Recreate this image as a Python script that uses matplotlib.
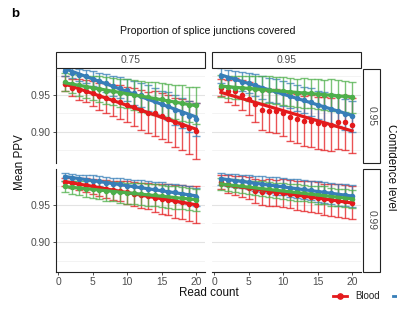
import numpy as np
import matplotlib
matplotlib.use("Agg")
import matplotlib.pyplot as plt
from matplotlib.patches import Rectangle
from matplotlib.lines import Line2D

# ---------------- data ----------------
read_count = np.arange(1, 21)
coverage_levels = ["0.75", "0.95"]
confidence_levels = ["0.95", "0.99"]
tissues = ["Blood", "Tissue2", "Tissue3"]
colors = {"Blood": "#E41A1C", "Tissue2": "#377EB8", "Tissue3": "#4DAF4A"}

# top-left: coverage 0.75, confidence 0.95
tl_red = [0.965, 0.960, 0.957, 0.955, 0.952, 0.948, 0.946, 0.943, 0.940, 0.937,
          0.934, 0.930, 0.926, 0.925, 0.921, 0.918, 0.913, 0.910, 0.906, 0.901]
tl_red_err = [0.010, 0.012, 0.014, 0.015, 0.017, 0.018, 0.020, 0.021, 0.023, 0.024,
              0.026, 0.027, 0.028, 0.030, 0.031, 0.032, 0.033, 0.035, 0.036, 0.038]
tl_blue = [0.982, 0.980, 0.977, 0.975, 0.972, 0.969, 0.966, 0.962, 0.960, 0.957,
           0.953, 0.950, 0.946, 0.942, 0.938, 0.935, 0.930, 0.926, 0.921, 0.917]
tl_blue_err = [0.006, 0.007, 0.008, 0.009, 0.010, 0.011, 0.012, 0.013, 0.014, 0.015,
               0.016, 0.016, 0.017, 0.018, 0.018, 0.019, 0.020, 0.020, 0.021, 0.022]
tl_green = [0.968, 0.965, 0.963, 0.961, 0.959, 0.958, 0.956, 0.955, 0.953, 0.952,
            0.950, 0.948, 0.947, 0.945, 0.944, 0.942, 0.940, 0.939, 0.937, 0.936]
tl_green_err = [0.012, 0.013, 0.014, 0.015, 0.016, 0.017, 0.018, 0.018, 0.019, 0.020,
                0.020, 0.021, 0.021, 0.022, 0.022, 0.023, 0.023, 0.024, 0.024, 0.025]

# top-right: coverage 0.95, confidence 0.95
tr_red = [0.960, 0.955, 0.955, 0.950, 0.945, 0.938, 0.930, 0.928, 0.928, 0.925,
          0.920, 0.918, 0.915, 0.915, 0.912, 0.911, 0.910, 0.913, 0.913, 0.909]
tr_red_err = [0.012, 0.015, 0.018, 0.020, 0.022, 0.025, 0.027, 0.028, 0.030, 0.031,
              0.032, 0.033, 0.034, 0.035, 0.035, 0.036, 0.036, 0.036, 0.037, 0.037]
tr_blue = [0.976, 0.973, 0.971, 0.968, 0.966, 0.963, 0.960, 0.957, 0.955, 0.952,
           0.949, 0.946, 0.943, 0.940, 0.937, 0.934, 0.931, 0.928, 0.924, 0.921]
tr_blue_err = [0.010, 0.011, 0.012, 0.013, 0.014, 0.015, 0.015, 0.016, 0.016, 0.017,
               0.017, 0.018, 0.018, 0.019, 0.019, 0.020, 0.020, 0.020, 0.021, 0.021]
tr_green = [0.962, 0.961, 0.960, 0.960, 0.959, 0.958, 0.957, 0.957, 0.956, 0.955,
            0.954, 0.953, 0.953, 0.952, 0.951, 0.950, 0.950, 0.949, 0.948, 0.947]
tr_green_err = [0.015, 0.015, 0.016, 0.016, 0.017, 0.017, 0.018, 0.018, 0.018, 0.019,
                0.019, 0.019, 0.020, 0.020, 0.020, 0.020, 0.021, 0.021, 0.021, 0.021]

# bottom-left: coverage 0.75, confidence 0.99
bl_red = [0.981, 0.980, 0.978, 0.977, 0.975, 0.973, 0.972, 0.970, 0.969, 0.967,
          0.965, 0.963, 0.962, 0.960, 0.958, 0.957, 0.955, 0.954, 0.952, 0.950]
bl_red_err = [0.006, 0.007, 0.008, 0.009, 0.010, 0.011, 0.012, 0.013, 0.014, 0.015,
              0.016, 0.017, 0.018, 0.019, 0.020, 0.021, 0.022, 0.023, 0.024, 0.025]
bl_blue = [0.988, 0.987, 0.985, 0.984, 0.983, 0.982, 0.980, 0.979, 0.978, 0.976,
           0.975, 0.974, 0.972, 0.971, 0.970, 0.968, 0.967, 0.965, 0.963, 0.961]
bl_blue_err = [0.005, 0.005, 0.006, 0.006, 0.007, 0.007, 0.008, 0.008, 0.009, 0.009,
               0.009, 0.010, 0.010, 0.010, 0.011, 0.011, 0.011, 0.012, 0.012, 0.012]
bl_green = [0.975, 0.974, 0.973, 0.972, 0.971, 0.970, 0.969, 0.968, 0.967, 0.966,
            0.966, 0.965, 0.964, 0.963, 0.962, 0.961, 0.960, 0.959, 0.958, 0.957]
bl_green_err = [0.008, 0.009, 0.010, 0.011, 0.012, 0.012, 0.013, 0.013, 0.014, 0.014,
                0.014, 0.015, 0.015, 0.015, 0.015, 0.015, 0.015, 0.015, 0.015, 0.015]

# bottom-right: coverage 0.95, confidence 0.99
br_red = [0.981, 0.978, 0.976, 0.975, 0.973, 0.969, 0.967, 0.967, 0.966, 0.966,
          0.965, 0.963, 0.962, 0.961, 0.960, 0.958, 0.957, 0.956, 0.955, 0.953]
br_red_err = [0.010, 0.012, 0.013, 0.014, 0.015, 0.016, 0.017, 0.018, 0.018, 0.019,
              0.019, 0.020, 0.020, 0.021, 0.021, 0.021, 0.022, 0.022, 0.022, 0.022]
br_blue = [0.985, 0.984, 0.983, 0.982, 0.981, 0.979, 0.978, 0.977, 0.976, 0.975,
           0.973, 0.972, 0.971, 0.970, 0.968, 0.967, 0.966, 0.964, 0.963, 0.962]
br_blue_err = [0.008, 0.008, 0.009, 0.009, 0.010, 0.010, 0.011, 0.011, 0.012, 0.012,
               0.012, 0.013, 0.013, 0.013, 0.014, 0.014, 0.014, 0.015, 0.015, 0.015]
br_green = [0.978, 0.977, 0.976, 0.975, 0.974, 0.973, 0.972, 0.971, 0.970, 0.969,
            0.968, 0.967, 0.966, 0.965, 0.964, 0.963, 0.961, 0.960, 0.959, 0.958]
br_green_err = [0.008, 0.008, 0.009, 0.009, 0.009, 0.010, 0.010, 0.010, 0.010, 0.011,
                0.011, 0.011, 0.011, 0.011, 0.012, 0.012, 0.012, 0.012, 0.012, 0.012]

panels = {
    (0, 0): {"Blood": (tl_red, tl_red_err), "Tissue2": (tl_blue, tl_blue_err), "Tissue3": (tl_green, tl_green_err)},
    (0, 1): {"Blood": (tr_red, tr_red_err), "Tissue2": (tr_blue, tr_blue_err), "Tissue3": (tr_green, tr_green_err)},
    (1, 0): {"Blood": (bl_red, bl_red_err), "Tissue2": (bl_blue, bl_blue_err), "Tissue3": (bl_green, bl_green_err)},
    (1, 1): {"Blood": (br_red, br_red_err), "Tissue2": (br_blue, br_blue_err), "Tissue3": (br_green, br_green_err)},
}

# ---------------- layout ----------------
W, H = 397, 322
plt.rcParams["font.family"] = ["Liberation Sans", "DejaVu Sans"]
fig = plt.figure(figsize=(W / 100, H / 100), dpi=100)

def fr(x0, y0, x1, y1):
    return [x0 / W, 1 - y1 / H, (x1 - x0) / W, (y1 - y0) / H]

col_x = [(56, 205), (212, 361)]
row_y = [(69, 163), (169, 272)]
ylims = [(0.8581, 0.9851), (0.8595, 0.9986)]
grey_txt = "#4D4D4D"

for (r, c), series in panels.items():
    x0, x1 = col_x[c]
    y0, y1 = row_y[r]
    ax = fig.add_axes(fr(x0, y0, x1, y1))
    ax.set_xlim(-0.3, 21.3)
    ax.set_ylim(*ylims[r])
    for yv in [0.875, 0.925, 0.975]:
        ax.axhline(yv, color="#EFEFEF", lw=0.5, zorder=0)
    for yv in [0.90, 0.95]:
        ax.axhline(yv, color="#E3E3E3", lw=0.8, zorder=0)
    # error bars
    for t in tissues:
        m, e = series[t]
        ax.errorbar(read_count, m, yerr=e, fmt="none", ecolor=colors[t], elinewidth=1.0,
                    capsize=2.8, capthick=1.0, alpha=0.75, zorder=2)
    # points
    for t in tissues:
        m, e = series[t]
        ax.plot(read_count, m, "o", color=colors[t], ms=4.0, mew=0, zorder=3)
    # linear trend lines
    for t in tissues:
        m, e = series[t]
        k, b = np.polyfit(read_count, m, 1)
        ax.plot(read_count, k * read_count + b, color=colors[t], lw=2.3, zorder=4)
    for s in ["top", "right"]:
        ax.spines[s].set_visible(False)
    ax.spines["left"].set_visible(c == 0)
    ax.spines["bottom"].set_visible(r == 1)
    ax.spines["left"].set_color("#222222")
    ax.spines["bottom"].set_color("#222222")
    ax.set_yticks([0.90, 0.95])
    ax.set_xticks([0, 5, 10, 15, 20])
    ax.tick_params(axis="both", labelsize=7.4, colors="#333333", labelcolor=grey_txt,
                   length=2, width=0.6, pad=1.8)
    if c == 0:
        ax.set_yticklabels(["0.90", "0.95"])
    else:
        ax.tick_params(axis="y", left=False, labelleft=False)
    if r == 0:
        ax.tick_params(axis="x", bottom=False, labelbottom=False)

# strips
for c, lab in enumerate(coverage_levels):
    x0, x1 = col_x[c]
    fig.add_artist(Rectangle((x0 / W, 1 - 68 / H), (x1 - x0) / W, 16 / H, transform=fig.transFigure,
                             facecolor="white", edgecolor="#222222", lw=0.8))
    fig.text((x0 + x1) / 2 / W, 1 - 60 / H, lab, ha="center", va="center", fontsize=7.4, color=grey_txt)
for r, lab in enumerate(confidence_levels):
    y0, y1 = row_y[r]
    fig.add_artist(Rectangle((363 / W, 1 - y1 / H), 17 / W, (y1 - y0) / H, transform=fig.transFigure,
                             facecolor="white", edgecolor="#222222", lw=0.8))
    fig.text(371.5 / W, 1 - (y0 + y1) / 2 / H, lab, ha="center", va="center", rotation=-90,
             fontsize=7.4, color=grey_txt)

# titles
fig.text(208 / W, 1 - 31 / H, "Proportion of splice junctions covered", ha="center", va="center",
         fontsize=7.6, color="#111111")
fig.text(209 / W, 1 - 293 / H, "Read count", ha="center", va="center", fontsize=8.4, color="#111111")
fig.text(20 / W, 1 - 162 / H, "Mean PPV", ha="center", va="center", rotation=90, fontsize=8.4, color="#111111")
fig.text(391 / W, 1 - 167 / H, "Confidence level", ha="center", va="center", rotation=-90,
         fontsize=8.4, color="#111111")
fig.text(11 / W, 1 - 14 / H, "b", ha="left", va="center", fontsize=9.5, fontweight="bold")

# legend (partially cut off at right)
ly = 1 - 296 / H
fig.add_artist(Line2D([333 / W, 347 / W], [ly, ly], color=colors["Blood"], lw=2, transform=fig.transFigure))
fig.add_artist(Line2D([340 / W], [ly], marker="o", ms=3.8, color=colors["Blood"], transform=fig.transFigure))
fig.text(355 / W, ly, "Blood", ha="left", va="center", fontsize=7, color="#222222")
fig.add_artist(Line2D([393 / W, 407 / W], [ly, ly], color=colors["Tissue2"], lw=2, transform=fig.transFigure))

fig.savefig("out.png", dpi=100)
